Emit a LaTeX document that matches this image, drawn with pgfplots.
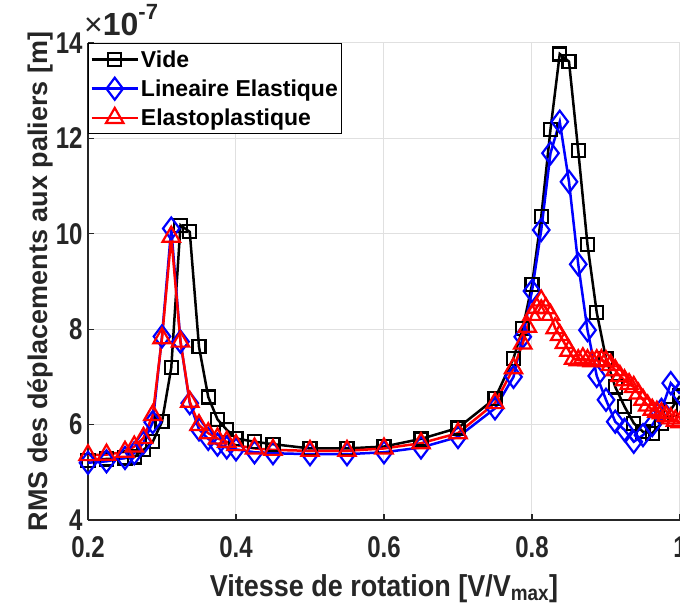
\documentclass[border=0pt]{standalone}
\usepackage{fontspec}
\setmainfont{Liberation Sans}
\usepackage{pgfplots}
\pgfplotsset{compat=1.18}
\definecolor{axgray}{rgb}{0.15,0.15,0.15}
\definecolor{gridgray}{rgb}{0.88,0.88,0.88}

% values in units of 1e-7 m
\pgfplotstableread{
x y
0.2 5.25
0.225 5.28
0.25 5.30
0.2625 5.32
0.275 5.47
0.2875 5.64
0.3 6.06
0.3125 7.19
0.325 10.18
0.3375 10.04
0.35 7.63
0.3625 6.58
0.375 6.11
0.3875 5.89
0.4 5.71
0.425 5.64
0.45 5.59
0.5 5.50
0.55 5.50
0.6 5.54
0.65 5.70
0.7 5.93
0.75 6.55
0.775 7.39
0.7875 8.02
0.8 8.93
0.8125 10.36
0.825 12.19
0.8375 13.77
0.85 13.61
0.8625 11.74
0.875 9.77
0.8875 8.35
0.9 7.39
0.9125 6.79
0.925 6.38
0.9375 6.03
0.95 5.85
0.9625 5.82
0.975 6.03
0.9875 6.31
1.0 6.60
}\vide

\pgfplotstableread{
x y
0.2 5.20
0.225 5.23
0.25 5.30
0.2625 5.40
0.275 5.62
0.2875 6.05
0.3 7.85
0.3125 10.11
0.325 7.74
0.3375 6.45
0.35 5.90
0.3625 5.70
0.375 5.58
0.3875 5.52
0.4 5.48
0.425 5.42
0.45 5.40
0.5 5.38
0.55 5.38
0.6 5.42
0.65 5.52
0.7 5.74
0.75 6.34
0.775 7.00
0.7875 7.84
0.8 8.80
0.8125 10.08
0.825 11.69
0.8375 12.35
0.85 11.09
0.8625 9.36
0.875 7.98
0.8875 7.02
0.9 6.52
0.9125 6.06
0.925 5.89
0.9375 5.64
0.95 5.78
0.9625 5.99
0.975 6.31
0.9875 6.87
1.0 6.65
}\lineaire

\pgfplotstableread{
x y
0.2 5.36
0.225 5.37
0.25 5.43
0.2625 5.54
0.275 5.72
0.2875 6.20
0.3 7.81
0.3125 9.94
0.325 7.74
0.3375 6.48
0.35 5.99
0.3625 5.82
0.375 5.71
0.3875 5.64
0.4 5.57
0.425 5.50
0.45 5.47
0.5 5.45
0.55 5.45
0.6 5.50
0.65 5.61
0.7 5.82
0.75 6.45
0.775 7.18
0.7875 7.70
0.79375 8.05
0.8 8.30
0.80625 8.45
0.8125 8.60
0.81875 8.44
0.825 8.30
0.83125 8.02
0.8375 7.88
0.84375 7.71
0.85 7.55
0.85625 7.38
0.8625 7.35
0.86875 7.39
0.875 7.35
0.88125 7.33
0.8875 7.35
0.89375 7.35
0.9 7.33
0.90625 7.25
0.9125 7.14
0.91875 7.02
0.925 6.93
0.93125 6.85
0.9375 6.79
0.94375 6.65
0.95 6.52
0.95625 6.40
0.9625 6.31
0.96875 6.27
0.975 6.24
0.98125 6.18
0.9875 6.13
0.99375 6.08
1.0 6.05
}\elasto

\begin{document}
\begin{tikzpicture}
\begin{axis}[
    scale only axis,
    width=592pt, height=477pt,
    xmin=0.2, xmax=1, ymin=4, ymax=14,
    xtick={0.2,0.4,0.6,0.8,1}, ytick={4,6,8,10,12,14},
    axis x line*=bottom, axis y line*=left,
    axis line style={axgray, line width=1.2pt},
    tick style={axgray, line width=1.2pt},
    major tick length=6pt,
    tick align=inside,
    grid=major,
    grid style={gridgray, line width=1pt},
    /pgf/number format/assume math mode=true,
    ticklabel style={font=\fontsize{24}{26}\selectfont\bfseries, text=axgray},
    xticklabel={\scalebox{1}[1.25]{\pgfmathprintnumber{\tick}}},
    yticklabel={\scalebox{1}[1.25]{\pgfmathprintnumber{\tick}}},
    xticklabel style={yshift=-13pt},
    yticklabel style={xshift=-2pt},
    xlabel={\scalebox{1}[1.12]{Vitesse de rotation [V/V\textsubscript{max}]}},
    ylabel={RMS des déplacements aux paliers [m]},
    label style={font=\fontsize{27}{30}\selectfont\bfseries, text=axgray},
    xlabel style={yshift=-10pt},
    ylabel style={yshift=-4pt},
    legend style={at={(0,1)}, anchor=north west, draw=black, line width=1pt,
      fill=white, font=\fontsize{23}{25}\selectfont\bfseries,
      inner xsep=2pt, inner ysep=5pt, row sep=7pt},
    legend cell align=left,
    legend image code/.code={
      \draw[mark repeat=2, mark phase=2] plot coordinates {(0pt,0pt) (23pt,0pt) (46pt,0pt)};
    },
    every axis plot/.append style={line width=2.5pt},
  ]
  \addplot[black, mark=square, mark size=6.5pt, mark options={solid, line width=2.2pt}]
    table[x=x, y=y] {\vide};
  \addplot[blue, mark=diamond, mark size=11pt, mark options={solid, line width=2.2pt}]
    table[x=x, y=y] {\lineaire};
  \addplot[red, mark=triangle, mark size=10pt, mark options={solid, line width=2.2pt}]
    table[x=x, y=y] {\elasto};
  \legend{Vide, Lineaire Elastique, Elastoplastique}
\end{axis}
% exponent label of the y axis, above the top-left corner of the axis box
\node[anchor=south west, inner sep=0pt, text=axgray] at (-4pt,484pt)
  {\fontsize{32}{34}\selectfont ×\bfseries 10\raisebox{0.5em}{\fontsize{22}{22}\selectfont -7}};
\pgfresetboundingbox
\path[use as bounding box] (-88pt,-85pt) rectangle (592pt,520pt);
\end{tikzpicture}
\end{document}
